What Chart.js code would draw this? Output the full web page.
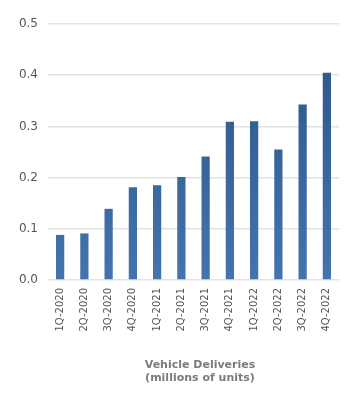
<!DOCTYPE html>
<html>
<head>
<meta charset="utf-8">
<script src="https://cdn.jsdelivr.net/npm/chart.js@4/dist/chart.umd.min.js"></script>
<style>
html,body{margin:0;padding:0;background:#fff;}
#wrap{width:361px;height:395px;position:relative;}
</style>
</head>
<body>
<div id="wrap"><canvas id="c" width="361" height="395"></canvas></div>
<script>
const categories = ["1Q-2020","2Q-2020","3Q-2020","4Q-2020","1Q-2021","2Q-2021","3Q-2021","4Q-2021","1Q-2022","2Q-2022","3Q-2022","4Q-2022"];
const deliveries = [0.088, 0.091, 0.139, 0.181, 0.185, 0.201, 0.241, 0.309, 0.310, 0.255, 0.343, 0.405];
const axisTitle = ["Vehicle Deliveries", "(millions of units)"];
const yMin = 0, yMax = 0.5, yStep = 0.1;

const titlePlugin = {
  id: 'bottomTitle',
  afterDraw(chart) {
    const ctx = chart.ctx;
    const a = chart.chartArea;
    ctx.save();
    ctx.font = "bold 11px 'DejaVu Sans'";
    ctx.fillStyle = '#7b7b7b';
    ctx.textAlign = 'center';
    ctx.textBaseline = 'middle';
    const cx = (a.left + a.right) / 2 + 6.5;
    axisTitle.forEach((t, i) => ctx.fillText(t, cx, a.bottom + 85 + i * 13));
    ctx.restore();
  }
};

const ctx = document.getElementById('c').getContext('2d');
new Chart(ctx, {
  type: 'bar',
  data: {
    labels: categories,
    datasets: [{
      data: deliveries,
      backgroundColor: (c) => {
        const area = c.chart.chartArea;
        if (!area) return '#3a679f';
        const g = c.chart.ctx.createLinearGradient(0, area.top, 0, area.bottom);
        g.addColorStop(0, '#2b5487');
        g.addColorStop(1, '#4473ae');
        return g;
      },
      borderWidth: 0,
      categoryPercentage: 1,
      barPercentage: 0.34
    }]
  },
  options: {
    responsive: false,
    animation: false,
    layout: { padding: { top: 24, right: 22, left: 0, bottom: 0 } },
    plugins: { legend: { display: false }, tooltip: { enabled: false } },
    scales: {
      x: {
        grid: { display: false, drawTicks: false },
        border: { display: false },
        ticks: {
          color: '#555',
          font: { family: 'DejaVu Sans', size: 10 },
          maxRotation: 90, minRotation: 90,
          padding: 8,
          autoSkip: false
        },
        afterFit(s) { s.height = 115; }
      },
      y: {
        min: yMin, max: yMax,
        grid: { color: '#e2e2e2', lineWidth: 1.5, drawTicks: false },
        border: { display: false },
        ticks: {
          stepSize: yStep,
          color: '#555',
          font: { family: 'DejaVu Sans', size: 12 },
          padding: 10,
          callback: (v) => Number(v).toFixed(1)
        },
        afterFit(s) { s.width = 48; }
      }
    }
  },
  plugins: [titlePlugin]
});
</script>
</body>
</html>
